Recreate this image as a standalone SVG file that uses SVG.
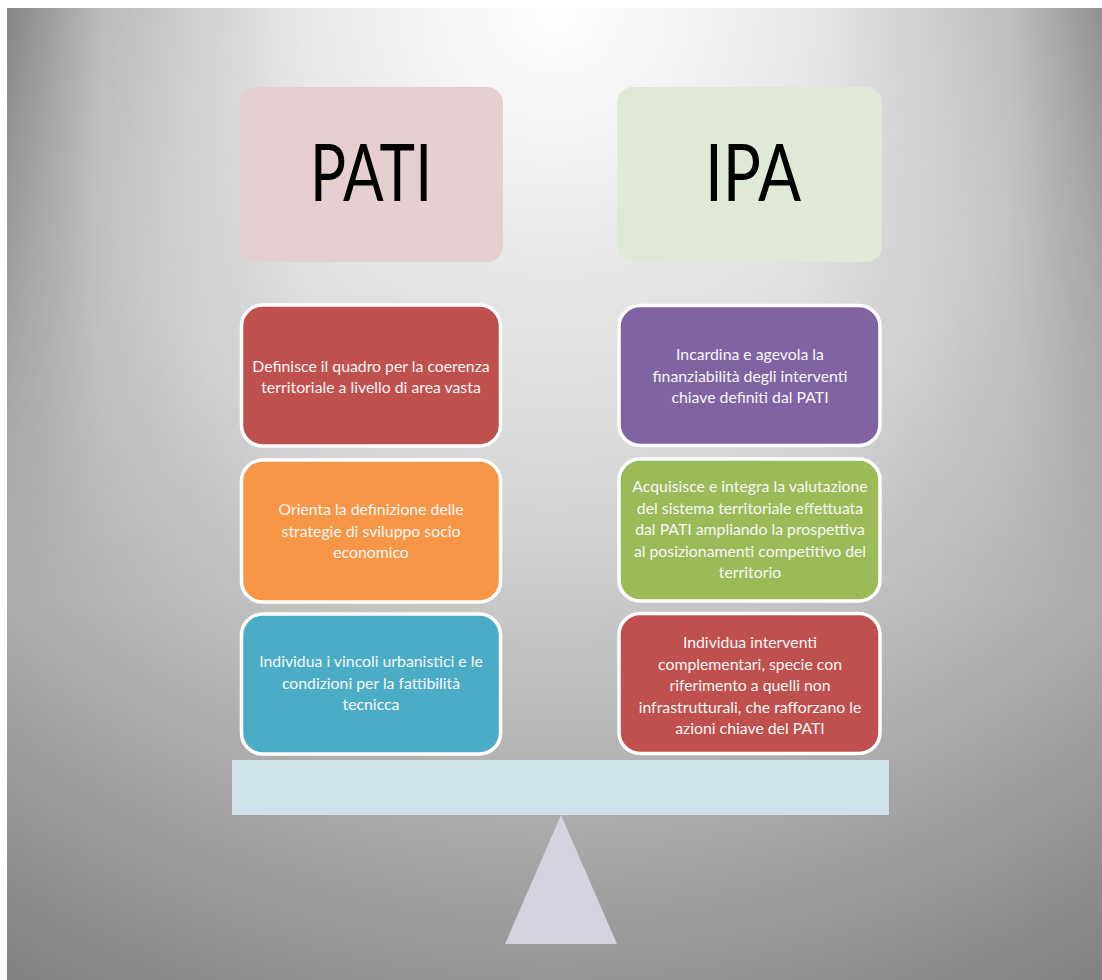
<svg xmlns="http://www.w3.org/2000/svg" width="1102" height="980" viewBox="0 0 1102 980">
  <defs>
    <!-- soft light spot at the top centre, fading to grey toward the edges -->
    <radialGradient id="bg" gradientUnits="userSpaceOnUse" cx="555" cy="8" r="1120">
      <stop offset="0" stop-color="#ffffff"/>
      <stop offset="0.25" stop-color="#e6e6e6"/>
      <stop offset="0.44" stop-color="#d6d6d6"/>
      <stop offset="0.67" stop-color="#b4b4b4"/>
      <stop offset="0.86" stop-color="#969696"/>
      <stop offset="1" stop-color="#808080"/>
    </radialGradient>
    <!-- extra shading of the upper side edges -->
    <linearGradient id="sideShade" gradientUnits="userSpaceOnUse" x1="7" y1="0" x2="1102" y2="0">
      <stop offset="0" stop-color="#000" stop-opacity="0.36"/>
      <stop offset="0.085" stop-color="#000" stop-opacity="0.14"/>
      <stop offset="0.27" stop-color="#000" stop-opacity="0"/>
      <stop offset="0.73" stop-color="#000" stop-opacity="0"/>
      <stop offset="0.915" stop-color="#000" stop-opacity="0.12"/>
      <stop offset="1" stop-color="#000" stop-opacity="0.3"/>
    </linearGradient>
    <linearGradient id="fadeDown" gradientUnits="userSpaceOnUse" x1="0" y1="8" x2="0" y2="600">
      <stop offset="0" stop-color="#fff"/>
      <stop offset="1" stop-color="#000"/>
    </linearGradient>
    <mask id="topOnly" maskUnits="userSpaceOnUse" x="0" y="0" width="1102" height="980">
      <rect x="0" y="0" width="1102" height="980" fill="url(#fadeDown)"/>
    </mask>
  </defs>
  <style>
    .head { font-family: Lato, "Liberation Sans", sans-serif; font-size: 80px; fill: #000000; text-anchor: middle; }
    .card { stroke: #ffffff; stroke-width: 3.5; }
    .txt { font-family: Lato, "Liberation Sans", sans-serif; font-size: 15.8px; fill: #f7f7f7; text-anchor: middle; }
  </style>

  <!-- page background -->
  <rect x="0" y="0" width="1102" height="980" fill="#ffffff"/>
  <rect x="7" y="8" width="1095" height="972" fill="url(#bg)"/>
  <rect x="7" y="8" width="1095" height="972" fill="url(#sideShade)" mask="url(#topOnly)"/>

  <!-- headings -->
  <g id="pati">
    <rect x="239" y="87" width="264" height="175" rx="16" fill="#e6cfd0"/>
    <text class="head" x="371" y="201" textLength="122" lengthAdjust="spacingAndGlyphs">PATI</text>
  </g>
  <g id="ipa">
    <rect x="617" y="87" width="265" height="175" rx="16" fill="#e0e8d6"/>
    <text class="head" x="753" y="201" textLength="96" lengthAdjust="spacingAndGlyphs">IPA</text>
  </g>

  <!-- PATI column -->
  <g id="pati-1">
    <rect class="card" x="241.5" y="305" width="259" height="141" rx="21" fill="#c0504d"/>
    <text class="txt" x="371" y="372">Definisce il quadro per la coerenza</text>
    <text class="txt" x="371" y="393">territoriale a livello di area vasta</text>
  </g>
  <g id="pati-2">
    <rect class="card" x="241.5" y="460" width="259" height="142" rx="21" fill="#f79646"/>
    <text class="txt" x="371" y="515">Orienta la definizione delle</text>
    <text class="txt" x="371" y="536.5">strategie di sviluppo socio</text>
    <text class="txt" x="371" y="558">economico</text>
  </g>
  <g id="pati-3">
    <rect class="card" x="241.5" y="614" width="259" height="140" rx="21" fill="#4bacc6"/>
    <text class="txt" x="371" y="667">Individua i vincoli urbanistici e le</text>
    <text class="txt" x="371" y="688.5">condizioni per la fattibilità</text>
    <text class="txt" x="371" y="710">tecnicca</text>
  </g>

  <!-- IPA column -->
  <g id="ipa-1">
    <rect class="card" x="619" y="305.5" width="261" height="140" rx="21" fill="#8064a2"/>
    <text class="txt" x="750" y="360">Incardina e agevola la</text>
    <text class="txt" x="750" y="381.5">finanziabilità degli interventi</text>
    <text class="txt" x="750" y="403">chiave definiti dal PATI</text>
  </g>
  <g id="ipa-2">
    <rect class="card" x="619" y="459" width="261" height="142" rx="21" fill="#9bbb59"/>
    <text class="txt" x="750" y="492">Acquisisce e integra la valutazione</text>
    <text class="txt" x="750" y="513.5">del sistema territoriale effettuata</text>
    <text class="txt" x="750" y="535">dal PATI ampliando la prospettiva</text>
    <text class="txt" x="750" y="556.5">al posizionamenti competitivo del</text>
    <text class="txt" x="750" y="578">territorio</text>
  </g>
  <g id="ipa-3">
    <rect class="card" x="619" y="613.5" width="261" height="140" rx="21" fill="#c0504d"/>
    <text class="txt" x="750" y="648">Individua interventi</text>
    <text class="txt" x="750" y="669.5">complementari, specie con</text>
    <text class="txt" x="750" y="691">riferimento a quelli non</text>
    <text class="txt" x="750" y="712.5">infrastrutturali, che rafforzano le</text>
    <text class="txt" x="750" y="734">azioni chiave del PATI</text>
  </g>

  <!-- balance: beam and fulcrum -->
  <g id="balance">
    <rect x="232" y="760" width="657" height="55" fill="#d0e2e9"/>
    <polygon points="561,815 617,944 505,944" fill="#d6d3e1"/>
  </g>
</svg>
